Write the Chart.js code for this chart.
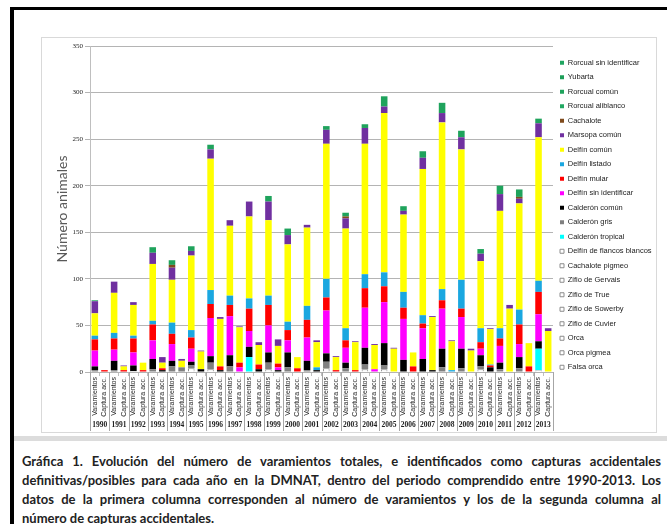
<!DOCTYPE html>
<html>
<head>
<meta charset="utf-8">
<title>Varamientos y capturas accidentales 1990-2013</title>
<script src="https://cdn.jsdelivr.net/npm/chart.js@4.4.1/dist/chart.umd.min.js"></script>
<style>
  html, body { margin: 0; padding: 0; background: #fff; }
  body { width: 667px; height: 524px; position: relative; overflow: hidden; }
  #frame { position: absolute; left: 10px; top: 7px; width: 720px; height: 600px;
           border-left: 4px solid #000; border-top: 3px solid #000; }
  #chartBox { position: absolute; left: 41px; top: 37px; width: 616px; height: 396px;
              border: 1px solid #d9d9d9; box-sizing: border-box; }
  #chart { position: absolute; left: 41px; top: 37px; }
  #band { position: absolute; left: 14px; top: 436px; width: 653px; height: 5px; background: #dcdcdc; }
  #caption { position: absolute; left: 22px; top: 452px; width: 639px;
             font-family: Lato, 'Open Sans', sans-serif; font-weight: bold; font-size: 13px;
             line-height: 19px; color: #222; }
  #caption div { text-align: justify; text-align-last: justify; }
  #caption div.last { text-align-last: left; }
</style>
</head>
<body>
<div id="frame"></div>
<div id="chartBox"></div>
<canvas id="chart" width="616" height="396"></canvas>
<div id="band"></div>
<div id="caption">
  <div>Gráfica 1. Evolución del número de varamientos totales, e identificados como capturas accidentales</div>
  <div>definitivas/posibles para cada año en la DMNAT, dentro del periodo comprendido entre 1990-2013. Los</div>
  <div>datos de la primera columna corresponden al número de varamientos y los de la segunda columna al</div>
  <div class="last">número de capturas accidentales.</div>
</div>
<script>
// two bars per year: strandings, then bycatch
const years = ['1990', '1991', '1992', '1993', '1994', '1995', '1996', '1997', '1998', '1999', '2000', '2001',
               '2002', '2003', '2004', '2005', '2006', '2007', '2008', '2009', '2010', '2011', '2012', '2013'];
const rowLabels = ['Varamientos', 'Captura acc.'];
const categories = years.flatMap(() => rowLabels);

// values per bar, order 1990 V, 1990 C, 1991 V, 1991 C, ...
const falsaOrca = [];
const orcaPigmea = [];
const orca = [];
const zifioCuvier = [0,0, 0,0, 1,0, 0,0, 0,0, 4,0, 3,0, 0,0, 0,0, 3,0, 0,0, 0,0, 4,0, 0,0, 3,0, 3,0, 0,0, 0,0, 0,0, 0,0, 3,0, 0,0, 0,0, 2,0];
const zifioSowerby = [];
const zifioTrue = [];
const zifioGervais = [];
const cachalotePigmeo = [];
const delfinFlancosBlancos = [];
const calderonTropical = [0,0, 0,0, 0,0, 0,0, 0,0, 0,0, 0,0, 0,0, 16,0, 0,0, 0,0, 0,0, 0,0, 0,0, 0,0, 0,0, 0,0, 0,0, 0,0, 0,0, 0,0, 0,0, 0,0, 23,0];
const calderonGris = [2,0, 2,0, 0,0, 3,0, 6,5, 3,0, 7,0, 6,0, 0,0, 7,0, 5,0, 2,0, 7,0, 4,0, 5,0, 4,0, 0,0, 0,0, 5,0, 4,0, 3,0, 3,0, 4,0, 0,0];
const calderonComun = [4,0, 10,0, 6,0, 11,2, 6,0, 4,3, 7,2, 12,0, 11,3, 11,2, 16,0, 10,2, 9,0, 6,0, 18,0, 24,0, 13,0, 14,2, 20,0, 21,0, 12,5, 7,0, 12,0, 8,0];
const delfinSinId = [17,0, 12,0, 14,0, 20,0, 18,0, 14,0, 41,0, 42,5, 17,0, 29,3, 13,0, 25,0, 46,0, 16,0, 43,3, 44,0, 44,0, 33,0, 43,0, 34,0, 7,0, 18,0, 14,0, 29,0];
const delfinMular = [12,2, 12,2, 15,2, 17,2, 11,0, 12,0, 15,4, 12,5, 24,5, 22,4, 11,4, 19,0, 14,2, 8,2, 21,0, 17,0, 12,6, 5,0, 9,0, 9,0, 7,2, 8,0, 21,6, 24,0];
const delfinListado = [4,0, 6,0, 3,0, 4,0, 12,0, 8,0, 15,0, 10,0, 11,0, 10,0, 9,0, 15,3, 20,0, 13,0, 15,0, 15,0, 17,0, 9,0, 12,2, 31,0, 15,1, 11,0, 16,0, 12,0];
const delfinComun = [24,0, 43,4, 33,8, 61,6, 46,7, 80,19, 141,51, 75,38, 88,21, 81,19, 83,12, 84,27, 145,14, 107,30, 140,26, 171,25, 83,15, 157,57, 179,31, 140,23, 72,38, 126,68, 114,25, 154,44];
const marsopaComun = [13,0, 12,1, 3,0, 12,6, 13,2, 5,1, 10,2, 6,1, 16,3, 20,7, 10,0, 3,2, 15,1, 11,1, 17,1, 7,1, 4,0, 12,1, 10,1, 13,2, 8,1, 18,4, 5,0, 15,3];
const cachalote = [0,0, 0,0, 0,0, 0,0, 3,0, 0,0, 0,0, 0,0, 0,0, 0,0, 0,0, 0,0, 0,0, 2,0, 0,0, 0,0, 0,0, 0,0, 0,0, 0,0, 0,0, 0,0, 2,0, 0,0];
const rorcualAliblanco = [];
const rorcualComun = [1,0, 0,0, 0,0, 6,0, 5,0, 5,0, 5,0, 0,0, 0,0, 6,0, 7,0, 0,0, 4,0, 4,0, 4,0, 11,0, 5,0, 7,0, 11,0, 7,0, 5,0, 9,0, 8,0, 5,0];
const yubarta = [];
const rorcualSinId = [];

// stack order, bottom to top
const speciesNames = ['Falsa orca', 'Orca pigmea', 'Orca', 'Zifio de Cuvier', 'Zifio de Sowerby', 'Zifio de True',
  'Zifio de Gervais', 'Cachalote pigmeo', 'Delfín de flancos blancos', 'Calderón tropical', 'Calderón gris',
  'Calderón común', 'Delfín sin identificar', 'Delfín mular', 'Delfín listado', 'Delfín común', 'Marsopa común',
  'Cachalote', 'Rorcual aliblanco', 'Rorcual común', 'Yubarta', 'Rorcual sin identificar'];
const speciesData = [falsaOrca, orcaPigmea, orca, zifioCuvier, zifioSowerby, zifioTrue, zifioGervais,
  cachalotePigmeo, delfinFlancosBlancos, calderonTropical, calderonGris, calderonComun, delfinSinId,
  delfinMular, delfinListado, delfinComun, marsopaComun, cachalote, rorcualAliblanco, rorcualComun,
  yubarta, rorcualSinId];

const colors = ['#ffffff', '#ffffff', '#ffffff', '#ffffff', '#ffffff', '#ffffff', '#ffffff', '#ffffff', '#ffffff',
  '#00ffff', '#808080', '#000000', '#ff00ff', '#ff0000', '#1aa7e0', '#ffff00', '#7030a0', '#7f4a1c',
  '#21a862', '#1fa35c', '#1d9e58', '#20a560'];

const datasets = speciesNames.map((name, i) => {
  const hollow = colors[i] === '#ffffff';
  return {
    label: name,
    data: speciesData[i].map(v => v || null),
    backgroundColor: colors[i],
    borderColor: hollow ? '#8c8c8c' : colors[i],
    borderWidth: hollow ? 1 : 0,
    barPercentage: 0.68,
    categoryPercentage: 1
  };
});

// vertical separators between the year groups under the axis
const yearLines = {
  id: 'yearLines',
  afterDraw(chart) {
    const xs = chart.scales.x;
    const bottom = chart.scales.x2.bottom;
    const ctx = chart.ctx;
    ctx.save();
    ctx.strokeStyle = '#a6a6a6';
    ctx.lineWidth = 1;
    for (let i = 0; i <= years.length; i++) {
      let px;
      if (i === 0) px = xs.left;
      else if (i === years.length) px = xs.right;
      else px = (xs.getPixelForValue(2 * i - 1) + xs.getPixelForValue(2 * i)) / 2;
      px = Math.round(px) + 0.5;
      ctx.beginPath();
      ctx.moveTo(px, chart.chartArea.bottom);
      ctx.lineTo(px, bottom);
      ctx.stroke();
    }
    ctx.restore();
  }
};

const ctx = document.getElementById('chart').getContext('2d');
new Chart(ctx, {
  type: 'bar',
  data: { labels: categories, datasets: datasets },
  plugins: [yearLines],
  options: {
    responsive: false,
    animation: false,
    layout: { padding: { top: 9, right: 0, bottom: 2, left: 0 } },
    plugins: {
      tooltip: { enabled: false },
      legend: {
        position: 'right',
        align: 'start',
        reverse: true,
        maxWidth: 104,
        title: { display: true, text: '', padding: 0, font: { size: 5 } },
        labels: {
          boxWidth: 4,
          boxHeight: 4,
          padding: 7,
          color: '#222',
          font: { family: 'Liberation Sans', size: 7.5 }
        }
      }
    },
    scales: {
      x: {
        stacked: true,
        offset: true,
        weight: 0,
        grid: { offset: true, drawOnChartArea: false, tickLength: 4, color: '#bfbfbf' },
        border: { color: '#b4b4b4' },
        ticks: {
          autoSkip: false, minRotation: 90, maxRotation: 90, padding: 1,
          color: '#222', font: { family: 'Liberation Sans', size: 7 }
        },
        afterFit: s => { s.height = 46; }
      },
      x2: {
        type: 'category',
        labels: years,
        position: 'bottom',
        offset: true,
        weight: 1,
        grid: { display: false, drawTicks: false },
        border: { display: false },
        ticks: {
          autoSkip: false, minRotation: 0, maxRotation: 0, padding: 3,
          color: '#222', font: { family: 'Liberation Serif', size: 7.5, weight: 'bold' }
        },
        afterFit: s => { s.height = 13; }
      },
      y: {
        stacked: true,
        min: 0,
        max: 350,
        ticks: { stepSize: 50, padding: 2, color: '#222', font: { family: 'Liberation Serif', size: 7 } },
        grid: { color: '#b4b4b4', tickLength: 5 },
        border: { color: '#bfbfbf' },
        title: {
          display: true,
          text: 'Número animales',
          color: '#595959',
          font: { family: 'Lato', size: 14 },
          padding: { top: 12.6, bottom: 0 }
        },
        afterFit: s => { s.width = 49; }
      }
    }
  }
});
</script>
</body>
</html>
